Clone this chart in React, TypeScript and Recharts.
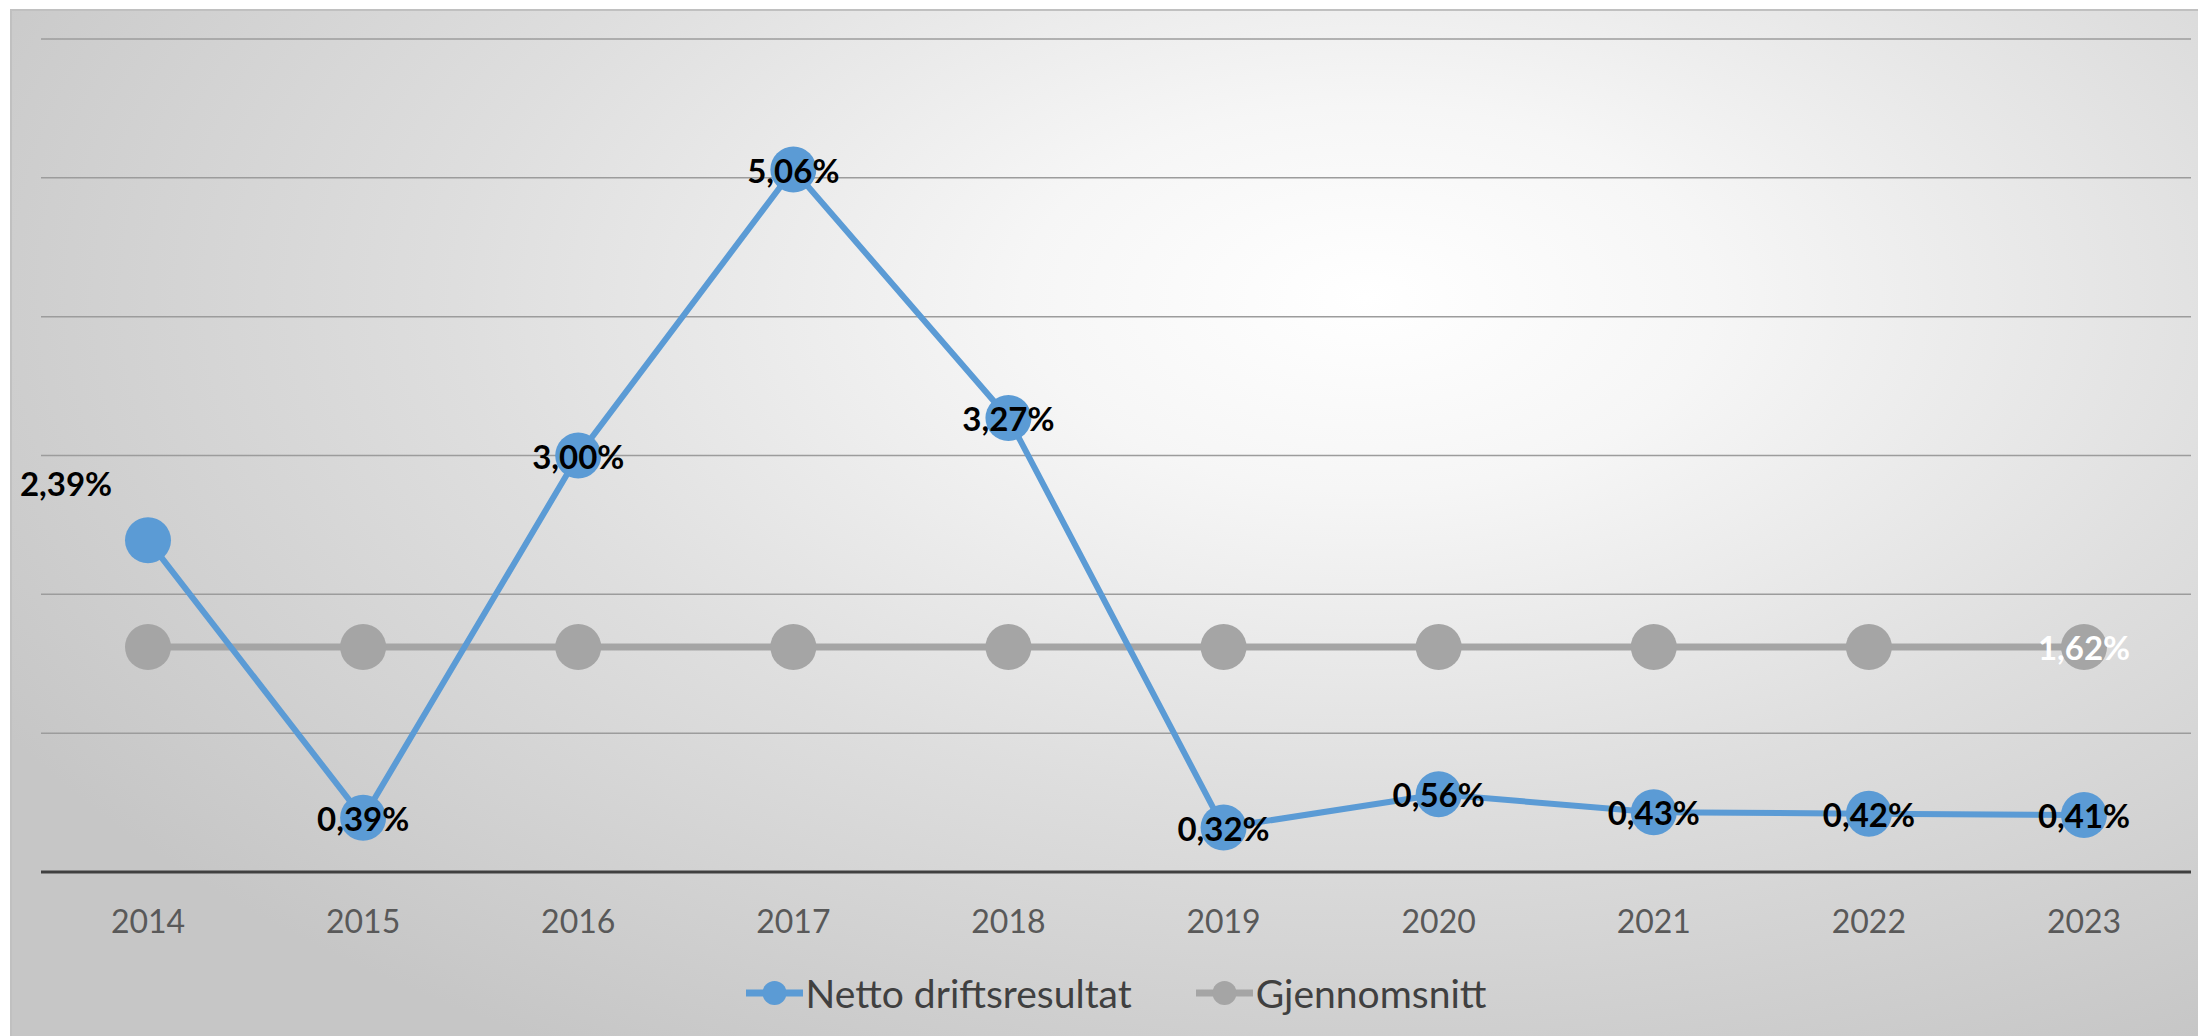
import { LineChart, Line, XAxis, YAxis, CartesianGrid, Legend, LabelList } from 'recharts'

// Netto driftsresultat i prosent av brutto driftsinntekter, 2014–2023
const years = ['2014', '2015', '2016', '2017', '2018', '2019', '2020', '2021', '2022', '2023']
const netto = [2.39, 0.39, 3.0, 5.06, 3.27, 0.32, 0.56, 0.43, 0.42, 0.41]
const snitt = [1.62, 1.62, 1.62, 1.62, 1.62, 1.62, 1.62, 1.62, 1.62, 1.62]
const yTicks = [0, 1, 2, 3, 4, 5, 6]

const BLUE = '#5b9bd5'
const GREY = '#a5a5a5'
const FONT = 'Lato, "Open Sans", sans-serif'

const data = years.map((year, i) => ({ year, netto: netto[i], snitt: snitt[i] }))

const pct = (v: number) => v.toFixed(2).replace('.', ',') + '%'

function NettoLabel(props: any) {
  const { x, y, value, index } = props
  // first point's label sits up and to the left, the rest sit on the marker
  const dx = index === 0 ? -82 : 0
  const dy = index === 0 ? -57 : 0
  return (
    <text x={x + dx} y={y + dy} textAnchor="middle" dominantBaseline="central"
      fontFamily={FONT} fontWeight={700} fontSize={33} fill="#000">
      {pct(value)}
    </text>
  )
}

function SnittLabel(props: any) {
  const { x, y, value, index } = props
  if (index !== years.length - 1) return null
  return (
    <text x={x} y={y} textAnchor="middle" dominantBaseline="central"
      fontFamily={FONT} fontWeight={700} fontSize={33} fill="#fff">
      {pct(value)}
    </text>
  )
}

function YearTick(props: any) {
  const { x, y, payload } = props
  return (
    <text x={x} y={y + 40} textAnchor="middle" dominantBaseline="central"
      fontFamily={FONT} fontSize={32} fill="#595959">
      {payload.value}
    </text>
  )
}

function LegendBox() {
  const items = [
    { name: 'Netto driftsresultat', color: BLUE },
    { name: 'Gjennomsnitt', color: GREY },
  ]
  return (
    <div style={{ height: 70, display: 'flex', justifyContent: 'center', alignItems: 'center', gap: 64 }}>
      {items.map((it) => (
        <div key={it.name} style={{ display: 'flex', alignItems: 'center' }}>
          <svg width={57} height={30}>
            <line x1={0} y1={15} x2={57} y2={15} stroke={it.color} strokeWidth={7} strokeLinecap="round" />
            <circle cx={28.5} cy={15} r={12} fill={it.color} />
          </svg>
          <span style={{ fontFamily: FONT, fontSize: 39, color: '#404040', marginLeft: 3 }}>{it.name}</span>
        </div>
      ))}
    </div>
  )
}

export default function App() {
  return (
    <div
      style={{
        position: 'absolute',
        left: 10,
        top: 9,
        width: 2188,
        height: 1027,
        background: 'radial-gradient(ellipse 72% 85% at 62% 28%, #ffffff 0%, #f6f6f6 22%, #dedede 58%, #c6c6c6 100%)',
        borderTop: '2px solid #c0c0c0',
        borderLeft: '2px solid #c0c0c0',
        boxSizing: 'border-box',
      }}
    >
      <LineChart width={2186} height={1025} data={data} margin={{ top: 28, right: 7, bottom: 8, left: 29 }}>
        <CartesianGrid vertical={false} stroke="#9c9c9c" strokeWidth={1.5} />
        <XAxis dataKey="year" height={86} tickLine={false} axisLine={{ stroke: '#404040', strokeWidth: 3 }}
          tick={<YearTick />} interval={0} padding={{ left: 107, right: 107 }} />
        <YAxis hide domain={[0, 6]} ticks={yTicks} />
        <Legend verticalAlign="bottom" height={70} content={<LegendBox />} />
        <Line dataKey="snitt" name="Gjennomsnitt" stroke={GREY} strokeWidth={7}
          dot={{ r: 23, fill: GREY, stroke: 'none' }} activeDot={false} isAnimationActive={false}>
          <LabelList dataKey="snitt" content={<SnittLabel />} />
        </Line>
        <Line dataKey="netto" name="Netto driftsresultat" stroke={BLUE} strokeWidth={6}
          dot={{ r: 23, fill: BLUE, stroke: 'none' }} activeDot={false} isAnimationActive={false}>
          <LabelList dataKey="netto" content={<NettoLabel />} />
        </Line>
      </LineChart>
    </div>
  )
}
